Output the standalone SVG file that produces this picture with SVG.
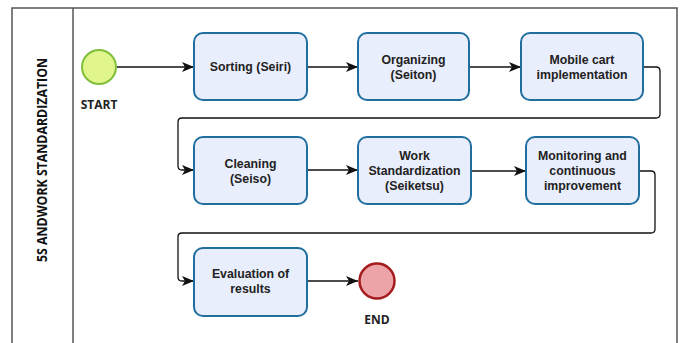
<svg xmlns="http://www.w3.org/2000/svg" width="683" height="343" viewBox="0 0 683 343">
  <defs>
    <marker id="arrow" viewBox="0 0 12 10" refX="12" refY="5" markerWidth="12" markerHeight="10" markerUnits="userSpaceOnUse" orient="auto">
      <path d="M0,0 L12,5 L0,10 L3,5 Z" fill="#111"/>
    </marker>
  </defs>
  <style>
    .pool { fill: #fff; stroke: #555; stroke-width: 1.5; }
    .task rect { fill: #e9eefc; stroke: #1f6e9e; stroke-width: 2; }
    .label { font-family: "Liberation Sans", Arial, sans-serif; font-weight: 700; font-size: 12.3px; fill: #222; text-anchor: middle; }
    .evlabel { font-family: "Open Sans", "Liberation Sans", sans-serif; font-weight: 700; font-size: 12px; fill: #222; text-anchor: middle; }
    .flow { fill: none; stroke: #111; stroke-width: 1.3; marker-end: url(#arrow); }
    .title { font-family: "Open Sans", "Liberation Sans", sans-serif; font-weight: 700; font-size: 14.5px; fill: #111; text-anchor: middle; }
  </style>

  <rect width="683" height="343" fill="#fff"/>

  <!-- pool and lane header -->
  <g id="pool">
    <rect class="pool" x="12" y="8" width="665" height="345"/>
    <line x1="73" y1="8" x2="73" y2="343" stroke="#555" stroke-width="1.5"/>
    <text class="title" transform="translate(47,160) rotate(-90)" textLength="204" lengthAdjust="spacingAndGlyphs">5S ANDWORK STANDARDIZATION</text>
  </g>

  <!-- sequence flows -->
  <g id="connectors">
    <path class="flow" d="M117,67 H194"/>
    <path class="flow" d="M307,67 H358"/>
    <path class="flow" d="M469,67 H521"/>
    <path class="flow" d="M643,67 H656 Q660,67 660,71 V114 Q660,118 656,118 H182 Q178,118 178,122 V166 Q178,170 182,170 H194"/>
    <path class="flow" d="M307,170 H358"/>
    <path class="flow" d="M471,171 H526"/>
    <path class="flow" d="M639,171 H651 Q655,171 655,175 V229 Q655,233 651,233 H182 Q178,233 178,237 V277 Q178,281 182,281 H194"/>
    <path class="flow" d="M307,281 H358"/>
  </g>

  <g id="start">
    <circle cx="99" cy="67" r="17" fill="#e0f58c" stroke="#7fbf3a" stroke-width="2"/>
    <text class="evlabel" x="99" y="109">START</text>
  </g>

  <g id="sorting" class="task">
    <rect x="194" y="33" width="113" height="67" rx="9"/>
    <text class="label" x="250.5" y="71">Sorting (Seiri)</text>
  </g>

  <g id="organizing" class="task">
    <rect x="358" y="33" width="111" height="67" rx="9"/>
    <text class="label" y="63.5"><tspan x="413.5">Organizing</tspan><tspan x="413.5" dy="15">(Seiton)</tspan></text>
  </g>

  <g id="mobile-cart" class="task">
    <rect x="521" y="33" width="122" height="67" rx="9"/>
    <text class="label" y="63.5"><tspan x="582">Mobile cart</tspan><tspan x="582" dy="15">implementation</tspan></text>
  </g>

  <g id="cleaning" class="task">
    <rect x="194" y="137" width="113" height="67" rx="9"/>
    <text class="label" y="167.5"><tspan x="250.5">Cleaning</tspan><tspan x="250.5" dy="15">(Seiso)</tspan></text>
  </g>

  <g id="work-standardization" class="task">
    <rect x="358" y="137" width="113" height="67" rx="9"/>
    <text class="label" y="160"><tspan x="414.5">Work</tspan><tspan x="414.5" dy="15">Standardization</tspan><tspan x="414.5" dy="15">(Seiketsu)</tspan></text>
  </g>

  <g id="monitoring" class="task">
    <rect x="526" y="137" width="113" height="67" rx="9"/>
    <text class="label" y="160"><tspan x="582.5">Monitoring and</tspan><tspan x="582.5" dy="15">continuous</tspan><tspan x="582.5" dy="15">improvement</tspan></text>
  </g>

  <g id="evaluation" class="task">
    <rect x="194" y="248" width="113" height="68" rx="9"/>
    <text class="label" y="277.5"><tspan x="250.5">Evaluation of</tspan><tspan x="250.5" dy="15">results</tspan></text>
  </g>

  <g id="end">
    <circle cx="377" cy="281" r="17.5" fill="#eca4a8" stroke="#a51c1f" stroke-width="2.5"/>
    <text class="evlabel" x="377" y="324">END</text>
  </g>
</svg>
